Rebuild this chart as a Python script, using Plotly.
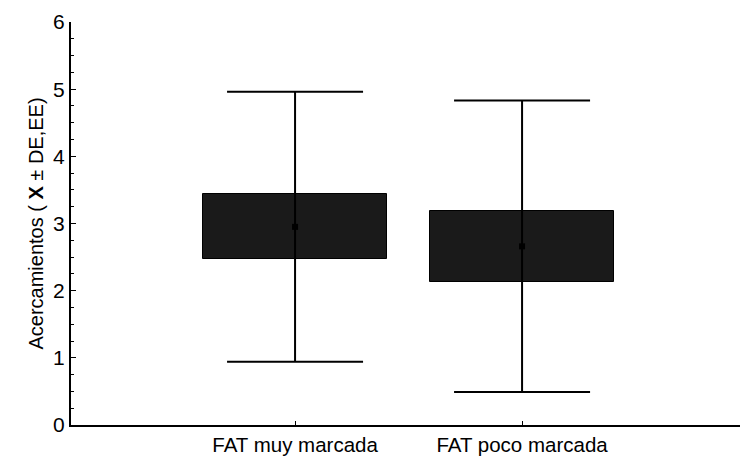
import plotly.graph_objects as go

categories = ["FAT muy marcada", "FAT poco marcada"]
means = [2.95, 2.66]
se = [0.485, 0.53]
sd = [2.01, 2.17]
yticks = [0, 1, 2, 3, 4, 5, 6]

xpos = list(range(len(categories)))
font = "Arial, Liberation Sans, sans-serif"

fig = go.Figure()
fig.add_trace(go.Bar(
    x=xpos,
    y=[2 * s for s in se],
    base=[m - s for m, s in zip(means, se)],
    width=0.81,
    marker=dict(color="#1a1a1a", line=dict(color="#000000", width=1)),
    showlegend=False,
    hoverinfo="skip",
))
fig.add_trace(go.Scatter(
    x=xpos,
    y=means,
    mode="markers",
    marker=dict(symbol="square", size=6, color="#000000"),
    error_y=dict(type="data", array=sd, symmetric=True, width=68,
                 thickness=2, color="#000000"),
    showlegend=False,
))

fig.update_layout(
    width=743, height=457,
    margin=dict(l=71, r=3, t=22, b=32),
    paper_bgcolor="white", plot_bgcolor="white",
    font=dict(family=font, color="#000000"),
    bargap=0,
)
fig.update_xaxes(
    range=[-0.987, 1.96],
    tickvals=xpos, ticktext=categories,
    tickfont=dict(size=20.5),
    showline=True, linecolor="#000000", linewidth=2,
    ticks="inside", ticklen=4, tickcolor="#000000",
    showgrid=False, zeroline=False, automargin=False,
)
fig.update_yaxes(
    range=[0, 6],
    tickvals=yticks,
    tickfont=dict(size=21),
    showline=True, linecolor="#000000", linewidth=2,
    ticks="inside", ticklen=5, tickcolor="#000000", tickwidth=1,
    minor=dict(dtick=0.25, ticks="inside", ticklen=3, tickcolor="#000000"),
    showgrid=False, zeroline=False,
    title=dict(text="Acercamientos ( <b>X</b> ± DE,EE)", font=dict(size=20), standoff=4),
)

fig.write_html("out.html")
